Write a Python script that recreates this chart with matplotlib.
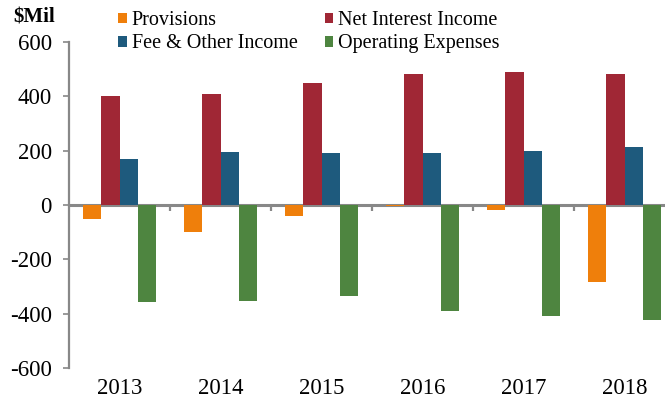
import numpy as np
import matplotlib
matplotlib.use("Agg")
import matplotlib.pyplot as plt
import matplotlib.transforms as mtransforms
from matplotlib.patches import Patch

# data ($ millions)
years = ["2013", "2014", "2015", "2016", "2017", "2018"]
provisions = [-50, -100, -42, -3, -20, -285]
net_interest = [401, 408, 450, 484, 491, 484]
fee_other = [170, 196, 192, 191, 197, 212]
op_expenses = [-356, -355, -334, -390, -407, -424]

series = [
    ("Provisions", provisions, "#EF7F0B"),
    ("Net Interest Income", net_interest, "#A02735"),
    ("Fee & Other Income", fee_other, "#1E5A7D"),
    ("Operating Expenses", op_expenses, "#4E8540"),
]

plt.rcParams['font.family'] = ['Liberation Serif', 'DejaVu Serif']
plt.rcParams['axes.unicode_minus'] = False

fig = plt.figure(figsize=(6.65, 4.07), dpi=100)
# axes runs off the right edge of the picture, like the original
ax = fig.add_axes([69 / 665, 1 - 368 / 407, 606 / 665, 326 / 407])

x = np.arange(len(years))
w = 0.182
for k, (name, vals, col) in enumerate(series):
    ax.bar(x + (k - 1.5) * w, vals, width=w, color=col, linewidth=0)

ax.set_xlim(-0.5, len(years) - 0.5)
ax.set_ylim(-600, 600)
ax.set_yticks(range(-600, 601, 200))
ax.tick_params(axis='y', length=4.5, width=1.2, color="#888888",
               labelsize=16.5, pad=8)

for s in ["top", "right"]:
    ax.spines[s].set_visible(False)
ax.spines["left"].set_color("#888888")
ax.spines["left"].set_linewidth(1.6)
ax.spines["bottom"].set_position(("data", 0))
ax.spines["bottom"].set_color("#888888")
ax.spines["bottom"].set_linewidth(2.2)
ax.spines["bottom"].set_zorder(0.5)

# category separators on the zero line
ax.set_xticks(x[:-1] + 0.5)
ax.set_xticklabels([])
ax.tick_params(axis='x', length=4, width=1.6, color="#888888", direction="out")

# year labels along the bottom
trans = mtransforms.blended_transform_factory(ax.transData, fig.transFigure)
for i, yr in enumerate(years):
    ax.text(i, 1 - 388 / 407, yr, transform=trans, ha="center", va="center",
            fontsize=16.5)

fig.text(13 / 665, 1 - 17 / 407, "$Mil", fontsize=15, fontweight="bold",
         ha="left", va="center")

order = [0, 2, 1, 3]
handles = [Patch(facecolor=series[i][2], edgecolor="none") for i in order]
labels = [series[i][0] for i in order]
fig.legend(handles, labels, ncol=2, loc="upper left",
           bbox_to_anchor=(111 / 665, 1 - 4 / 407), frameon=False,
           fontsize=14.5, handlelength=0.42, handleheight=0.42,
           handletextpad=0.25, columnspacing=1.35, labelspacing=0.22,
           borderaxespad=0, borderpad=0.35)

fig.savefig("out.png", dpi=100)
